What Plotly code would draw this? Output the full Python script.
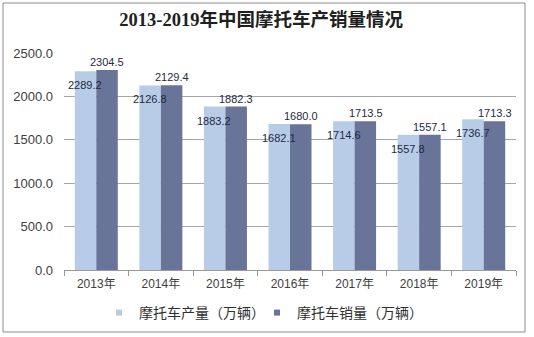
import plotly.graph_objects as go

years = ["2013年", "2014年", "2015年", "2016年", "2017年", "2018年", "2019年"]
production = [2289.2, 2126.8, 1883.2, 1682.1, 1714.6, 1557.8, 1736.7]
sales = [2304.5, 2129.4, 1882.3, 1680.0, 1713.5, 1557.1, 1713.3]
name_prod = "摩托车产量（万辆）"
name_sales = "摩托车销量（万辆）"
title_text = "2013-2019年中国摩托车产销量情况"

c_light = "#B8CCE8"
c_dark = "#687498"
font_fam = "Liberation Sans, Noto Sans CJK SC, sans-serif"

fig = go.Figure()
fig.add_trace(go.Bar(x=years, y=production, name=name_prod, marker=dict(color=c_light, line=dict(width=0)),
                     showlegend=False, hoverinfo="skip"))
fig.add_trace(go.Bar(x=years, y=sales, name=name_sales, marker=dict(color=c_dark, line=dict(width=0)),
                     showlegend=False, hoverinfo="skip"))
# legend entries with small square symbols
fig.add_trace(go.Scatter(x=[None], y=[None], mode="markers", name=name_prod,
                         marker=dict(symbol="square", size=6, color=c_light)))
fig.add_trace(go.Scatter(x=[None], y=[None], mode="markers", name=name_sales,
                         marker=dict(symbol="square", size=6, color=c_dark)))

annotations = []
for cat, v in zip(years, production):
    annotations.append(dict(x=cat, y=v, xref="x", yref="y", text=f"{v:.1f}", showarrow=False,
                            xshift=-11, yshift=-14, xanchor="center", yanchor="middle",
                            font=dict(size=11, color="#1f2a44", family=font_fam)))
for cat, v in zip(years, sales):
    annotations.append(dict(x=cat, y=v, xref="x", yref="y", text=f"{v:.1f}", showarrow=False,
                            xshift=11, yshift=8, xanchor="center", yanchor="middle",
                            font=dict(size=11, color="#1f2a44", family=font_fam)))

fig.update_layout(
    width=534, height=337,
    margin=dict(l=64, r=18, t=53, b=67, autoexpand=False),
    paper_bgcolor="white", plot_bgcolor="white",
    barmode="group", bargap=0.334, bargroupgap=0,
    title=dict(text=f"<b>{title_text}</b>", x=0.489, xanchor="center", y=1 - 20 / 337, yanchor="middle",
               font=dict(size=18.5, color="#202020", family="Liberation Serif, Noto Sans CJK SC, serif")),
    xaxis=dict(type="category", showline=True, linecolor="#999999", linewidth=1,
               ticks="outside", tickson="boundaries", ticklen=5, tickcolor="#999999", ticklabelstandoff=3,
               tickfont=dict(size=12, color="#404040", family=font_fam), showgrid=False),
    yaxis=dict(range=[0, 2500], dtick=500, tickformat=".1f", showgrid=True, gridcolor="#a6a6a6",
               gridwidth=1, zeroline=False, showline=False, ticks="", ticklabelstandoff=10,
               tickfont=dict(size=13, color="#404040", family=font_fam)),
    legend=dict(orientation="h", xref="container", yref="container", x=257 / 534, xanchor="center",
                y=1 - 313 / 337, yanchor="middle",
                font=dict(size=14, color="#303030", family=font_fam), itemwidth=30, entrywidth=113,
                bgcolor="rgba(0,0,0,0)"),
    annotations=annotations,
    shapes=[dict(type="rect", xref="paper", yref="paper",
                 x0=(3 - 64) / 452, x1=(525 - 64) / 452, y0=(270 - 332) / 217, y1=(270 - 3) / 217,
                 line=dict(color="#8c8c8c", width=1), fillcolor="rgba(0,0,0,0)", layer="below")],
)

fig.write_html("out.html")
